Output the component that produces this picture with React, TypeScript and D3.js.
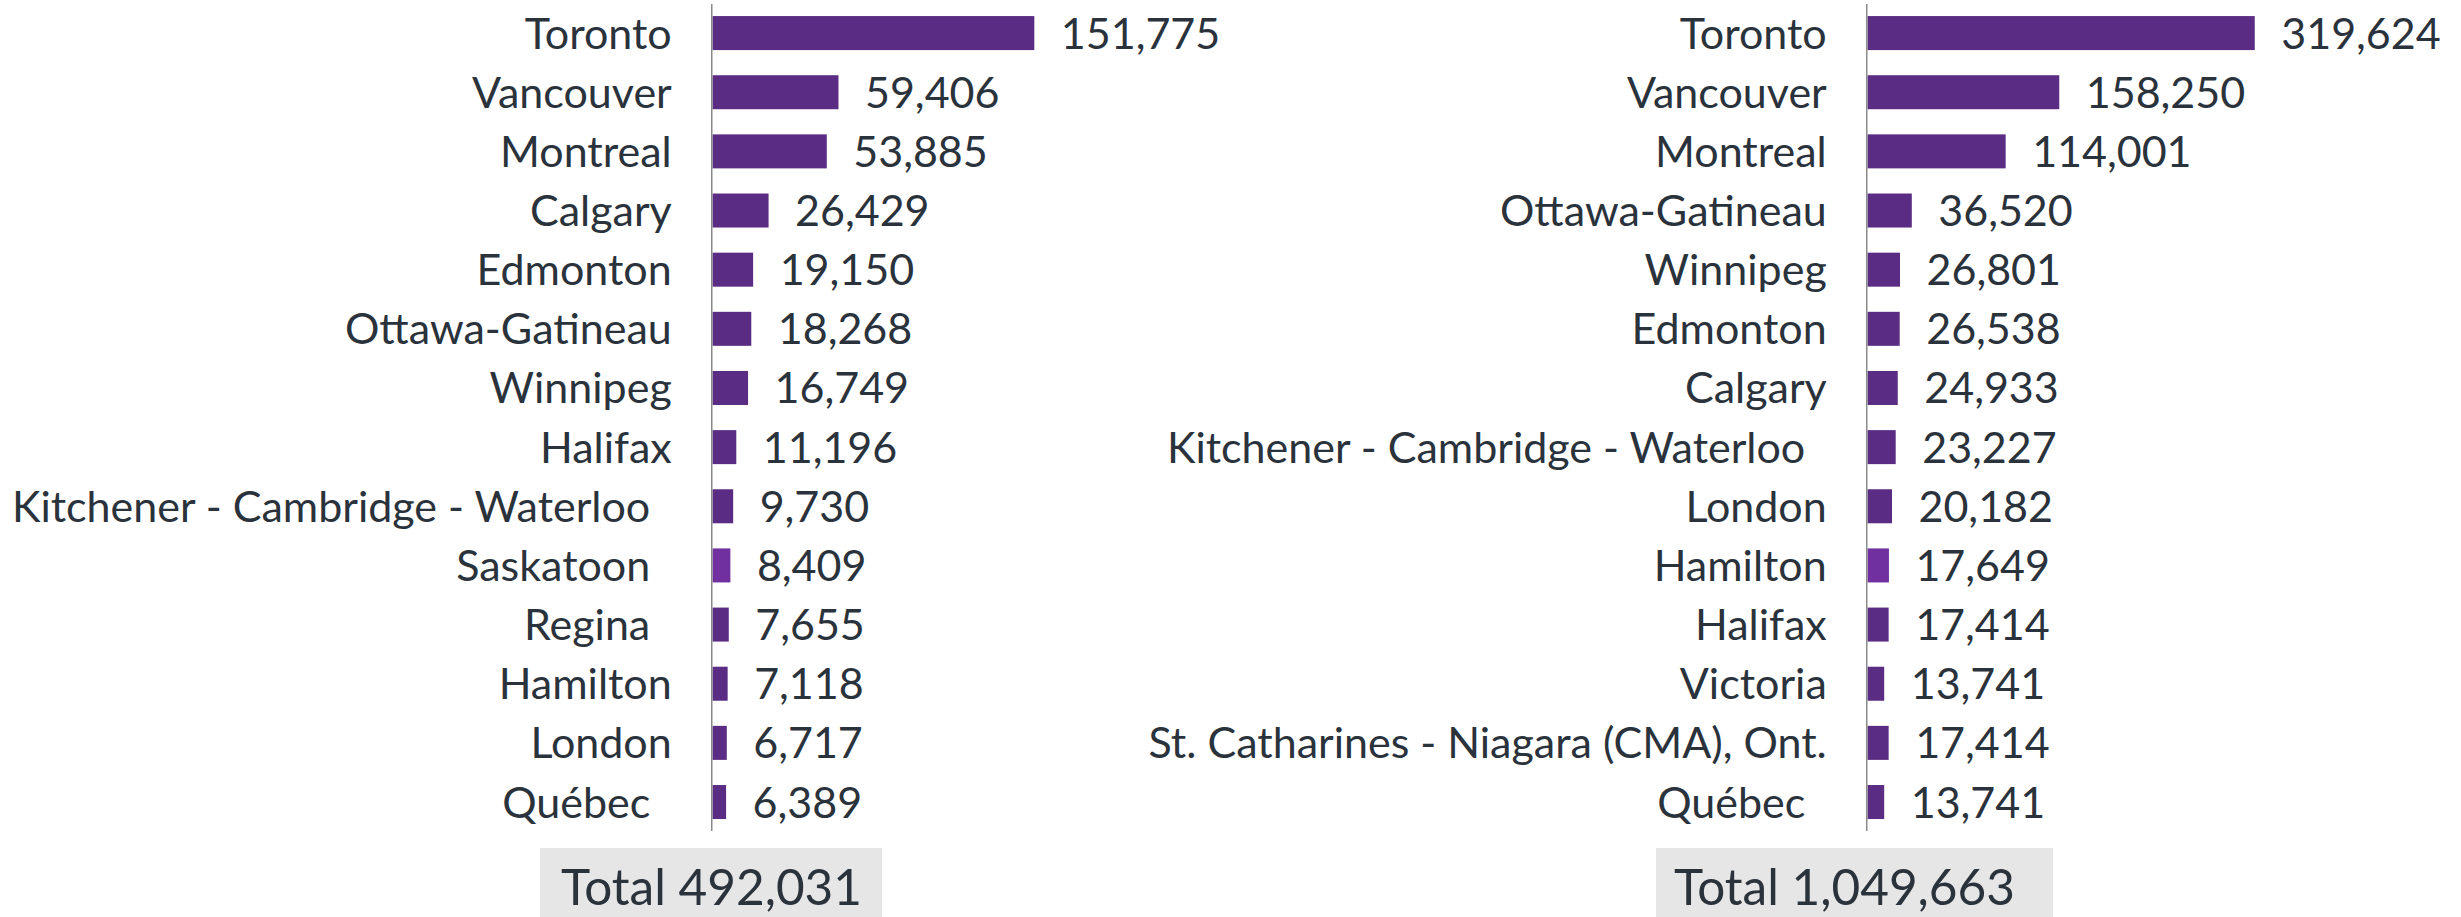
import React from "react";
import * as d3 from "d3";

const leftCities = [
  "Toronto", "Vancouver", "Montreal", "Calgary", "Edmonton", "Ottawa-Gatineau",
  "Winnipeg", "Halifax", "Kitchener - Cambridge - Waterloo ", "Saskatoon ",
  "Regina ", "Hamilton", "London", "Québec ",
];
const leftValues = [151775, 59406, 53885, 26429, 19150, 18268, 16749, 11196, 9730, 8409, 7655, 7118, 6717, 6389];
const leftHighlight = ["Saskatoon "];
const leftTotal = 492031;

const rightCities = [
  "Toronto", "Vancouver", "Montreal", "Ottawa-Gatineau", "Winnipeg", "Edmonton",
  "Calgary", "Kitchener - Cambridge - Waterloo ", "London", "Hamilton", "Halifax",
  "Victoria", "St. Catharines - Niagara (CMA), Ont.", "Québec ",
];
const rightValues = [319624, 158250, 114001, 36520, 26801, 26538, 24933, 23227, 20182, 17649, 17414, 13741, 17414, 13741];
const rightHighlight = ["Hamilton"];
const rightTotal = 1049663;

const leftDomainMax = 200000;
const rightDomainMax = 350000;

const W = 2461;
const H = 917;
const FONT = "Lato, 'Noto Sans', sans-serif";
const TEXT = "#2a323c";
const BAR = "#5b2c83";
const HI = "#7030a0";
const fmt = d3.format(",");

type PanelProps = {
  cities: string[];
  values: number[];
  highlight: string[];
  domainMax: number;
  axisX: number;
  total: number;
  boxX0: number;
  boxX1: number;
  totalX: number;
};

function Panel({ cities, values, highlight, domainMax, axisX, total, boxX0, boxX1, totalX }: PanelProps) {
  const x = d3.scaleLinear().domain([0, domainMax]).range([axisX + 0.8, axisX + 0.8 + 424]);
  const y = d3
    .scaleBand<string>()
    .domain(cities)
    .range([3.5, 3.5 + 14 * 59.15])
    .paddingInner(0.425)
    .paddingOuter(0.2125);
  const bw = y.bandwidth();
  return (
    <g>
      {cities.map((c, i) => {
        const yc = (y(c) as number) + bw / 2;
        const trailing = /\s$/.test(c);
        return (
          <g key={c}>
            <rect
              x={x(0)}
              y={y(c)}
              width={x(values[i]) - x(0)}
              height={bw}
              fill={highlight.includes(c) ? HI : BAR}
            />
            <text
              x={axisX - 40 - (trailing ? 21.5 : 0)}
              y={yc}
              dy="0.36em"
              textAnchor="end"
              fontFamily={FONT}
              fontSize={43}
              fill={TEXT}
            >
              {c.trim()}
            </text>
            <text
              x={x(values[i]) + 26.5}
              y={yc}
              dy="0.36em"
              textAnchor="start"
              fontFamily={FONT}
              fontSize={43}
              fill={TEXT}
            >
              {fmt(values[i])}
            </text>
          </g>
        );
      })}
      <line x1={axisX} x2={axisX} y1={4} y2={831} stroke="#8a8a8a" strokeWidth={1.5} />
      <rect x={boxX0} y={848} width={boxX1 - boxX0} height={H - 848 + 10} fill="#e6e6e6" />
      <text x={totalX} y={905} fontFamily={FONT} fontSize={49.5} fill={TEXT}>
        {`Total ${fmt(total)}`}
      </text>
    </g>
  );
}

export default function App() {
  return (
    <svg
      width={W}
      height={H}
      viewBox={`0 0 ${W} ${H}`}
      style={{ position: "absolute", left: 0, top: 0, background: "#ffffff" }}
    >
      <rect x={0} y={0} width={W} height={H} fill="#ffffff" />
      <Panel
        cities={leftCities}
        values={leftValues}
        highlight={leftHighlight}
        domainMax={leftDomainMax}
        axisX={711.75}
        total={leftTotal}
        boxX0={540}
        boxX1={882}
        totalX={561}
      />
      <Panel
        cities={rightCities}
        values={rightValues}
        highlight={rightHighlight}
        domainMax={rightDomainMax}
        axisX={1866.75}
        total={rightTotal}
        boxX0={1656}
        boxX1={2053}
        totalX={1674}
      />
    </svg>
  );
}
